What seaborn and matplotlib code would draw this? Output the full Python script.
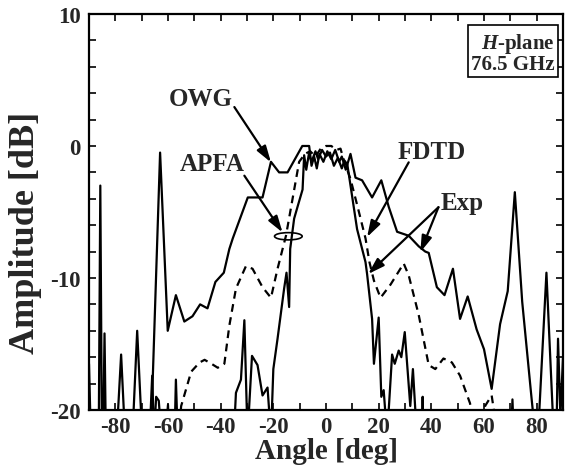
import numpy as np
import pandas as pd
import matplotlib
matplotlib.use("Agg")
import matplotlib.pyplot as plt
from matplotlib.patches import Ellipse
from matplotlib.ticker import MultipleLocator
import seaborn as sns

# wide solid curve
owg_x = [-66.5, -63.0, -60.1, -57.0, -53.8, -50.7, -47.8, -45.0, -42.0, -38.8, -36.7, -35.4,
         -29.7, -24.1, -20.9, -17.8, -14.6, -9.0, -6.4, -5.5, -4.5, -3.5, -2.5, -1.0, 0.5,
         2.0, 3.5, 5.0, 6.0, 7.5, 9.3, 11.2, 13.7, 17.5, 21.0, 23.8, 27.0, 31.4, 35.2, 37.7,
         39.0, 42.1, 45.0, 48.2, 50.9, 53.8, 57.2, 60.0, 62.9, 66.1, 69.0, 71.7, 74.5, 77.8,
         79.5, 80.5, 83.7, 86.5, 87.5, 88.1, 89.0, 90.0]
owg_y = [-22.0, -0.5, -14.0, -11.3, -13.3, -12.9, -12.0, -12.3, -10.3, -9.6, -7.8, -7.0,
         -3.9, -3.9, -1.2, -2.0, -2.0, 0.0, 0.0, -1.5, -0.8, -1.7, -0.6, -1.2, -0.4,
         -1.0, -0.3, -1.2, -0.8, -1.8, -0.6, -2.4, -2.6, -3.9, -2.6, -4.6, -6.5, -6.8, -7.6, -8.0,
         -8.1, -10.7, -11.3, -9.3, -13.1, -11.4, -13.9, -15.4, -18.4, -13.5, -11.0, -3.5, -11.8, -18.6,
         -22.0, -22.0, -9.6, -22.0, -22.0, -14.6, -20.5, -16.0]

# narrow solid curve
exp_x = [-90.0, -89.3, -86.3, -85.7, -85.1, -84.6, -84.1, -83.6, -79.5, -77.8, -76.3, -73.5,
         -71.7, -69.8, -67.0, -66.0, -65.3, -64.5, -63.5, -62.5, -61.0, -60.0, -59.5, -57.5,
         -57.0, -56.3, -35.0, -34.2, -32.3, -31.0, -29.8, -28.1, -26.0, -24.1, -22.2, -20.9,
         -20.0, -18.4, -15.9, -15.0, -14.0, -13.6, -12.1, -10.8, -8.9, -8.3, -7.5, -6.5, -5.5,
         -4.0, -3.0, -1.5, 0.0, 1.5, 3.0, 4.5, 6.0, 7.0, 8.1, 11.8, 15.0, 15.6, 17.5, 18.2,
         20.0, 21.0, 21.9, 23.2, 25.1, 26.1, 27.6, 28.6, 29.9, 32.0, 33.0, 34.5, 36.4, 36.7,
         37.0, 70.3, 70.8, 71.3, 90.0]
exp_y = [-16.5, -22.0, -22.0, -3.0, -22.0, -22.0, -14.2, -22.0, -22.0, -15.8, -22.0, -22.0,
         -14.0, -22.0, -22.0, -17.4, -22.0, -19.0, -19.3, -22.0, -22.0, -19.6, -22.0, -22.0,
         -17.7, -22.0, -22.0, -18.7, -17.7, -13.2, -22.0, -15.9, -16.6, -18.9, -18.3, -22.0,
         -16.9, -14.6, -10.8, -9.6, -12.2, -7.8, -5.5, -4.6, -3.3, -0.7, -1.8, -0.6, -1.2,
         -0.4, -1.0, -0.3, -0.8, -0.5, -1.5, -0.9, -1.7, -1.1, -1.4, -6.3, -8.8, -9.7, -13.1, -16.5,
         -13.0, -19.0, -18.5, -22.0, -15.8, -16.5, -15.5, -16.0, -14.1, -19.7, -16.9, -22.0, -22.0, -19.0,
         -22.0, -22.0, -19.2, -22.0, -22.0]

# dashed curve
fdtd_x = [-56.0, -55.0, -51.2, -48.0, -46.1, -43.5, -41.1, -38.6, -36.7, -34.2, -30.4, -27.9,
          -24.1, -20.9, -18.4, -15.2, -10.2, -8.0, -6.0, -4.0, -2.0, 0.0, 2.0, 4.0, 5.5, 6.8,
          9.3, 12.5, 15.0, 16.5, 18.2, 20.7, 24.5, 29.5, 31.4, 35.2, 39.0, 41.5, 44.6, 47.8,
          50.9, 54.7, 55.5, 59.5, 60.4, 62.9, 64.5]
fdtd_y = [-22.0, -19.7, -17.1, -16.4, -16.2, -16.5, -16.8, -16.5, -13.6, -10.8, -9.1, -9.3,
          -10.7, -11.5, -9.3, -6.8, -1.2, -0.6, -0.4, -0.8, -0.2, 0.0, 0.0, -0.3, -0.2, -1.1,
          -2.5, -5.0, -7.0, -8.8, -10.2, -11.5, -10.5, -8.9, -9.8, -12.8, -16.6, -16.9, -16.1, -16.4,
          -17.4, -19.5, -21.0, -21.0, -19.7, -18.9, -21.0]

x_ticks = [-80, -60, -40, -20, 0, 20, 40, 60, 80]
y_ticks = [-20, -10, 0, 10]

sns.set_style("ticks")
plt.rcParams['font.family'] = ['Liberation Serif', 'DejaVu Serif']
plt.rcParams['font.weight'] = 'bold'
plt.rcParams['axes.unicode_minus'] = False
plt.rcParams['mathtext.fontset'] = 'custom'
plt.rcParams['mathtext.it'] = 'Liberation Serif:italic:bold'
plt.rcParams['mathtext.rm'] = 'Liberation Serif:bold'

fig = plt.figure(figsize=(5.65, 4.77), dpi=100)
ax = fig.add_axes([0.1575, 0.1384, 0.839, 0.8302])

lw = 1.6
sns.lineplot(x=owg_x, y=owg_y, ax=ax, color='black', lw=lw, sort=False, estimator=None)
sns.lineplot(x=exp_x, y=exp_y, ax=ax, color='black', lw=lw, sort=False, estimator=None)
sns.lineplot(x=fdtd_x, y=fdtd_y, ax=ax, color='black', lw=lw, sort=False, estimator=None,
             linestyle=(0, (3.5, 2.5)))

ax.set_xlim(-90, 90)
ax.set_ylim(-20, 10)
ax.set_xticks(x_ticks)
ax.set_yticks(y_ticks)
ax.xaxis.set_minor_locator(MultipleLocator(10))
ax.yaxis.set_minor_locator(MultipleLocator(2))
ax.tick_params(which='both', direction='in', top=True, right=True, length=5, width=1.4,
               labelsize=16.5)
ax.tick_params(axis='x', pad=4)
ax.tick_params(axis='y', pad=6)
for lab in ax.get_xticklabels() + ax.get_yticklabels():
    lab.set_fontweight('bold')
for s in ax.spines.values():
    s.set_linewidth(1.6)
    s.set_visible(True)
    s.set_color('black')

ax.set_xlabel('Angle [deg]', fontsize=21, fontweight='bold', labelpad=0)
ax.set_ylabel('Amplitude [dB]', fontsize=26, fontweight='bold')
ax.yaxis.set_label_coords(-0.099, 0.45)

tfs = 18
akw = dict(arrowstyle='-|>,head_width=0.22,head_length=0.7', color='black', lw=1.6,
           mutation_scale=14, shrinkA=0, shrinkB=0)
ax.text(-47.5, 3.6, 'OWG', fontsize=tfs, fontweight='bold', ha='center', va='center')
ax.annotate('', xy=(-20.9, -1.24), xytext=(-34.8, 2.95), arrowprops=akw)
ax.text(-43.3, -1.3, 'APFA', fontsize=tfs, fontweight='bold', ha='center', va='center')
ax.annotate('', xy=(-16.5, -6.55), xytext=(-31.0, -2.25), arrowprops=akw)
ax.add_patch(Ellipse((-14.3, -6.84), 10.5, 0.55, fill=False, color='black', lw=1.2))
ax.text(40.3, -0.4, 'FDTD', fontsize=tfs, fontweight='bold', ha='center', va='center')
ax.annotate('', xy=(15.6, -6.9), xytext=(31.4, -1.24), arrowprops=akw)
ax.text(51.8, -4.3, 'Exp', fontsize=tfs, fontweight='bold', ha='center', va='center')
ax.annotate('', xy=(16.0, -9.7), xytext=(42.7, -4.64), arrowprops=akw)
ax.annotate('', xy=(35.8, -8.05), xytext=(42.7, -4.64), arrowprops=akw)

ax.text(0.983, 0.958, '$\\mathit{H}$-plane\n76.5 GHz', transform=ax.transAxes,
        fontsize=15, fontweight='bold', ha='right', va='top', linespacing=0.95,
        bbox=dict(boxstyle='square,pad=0.15', fc='white', ec='black', lw=1.2))

fig.savefig('out.png', dpi=100)
